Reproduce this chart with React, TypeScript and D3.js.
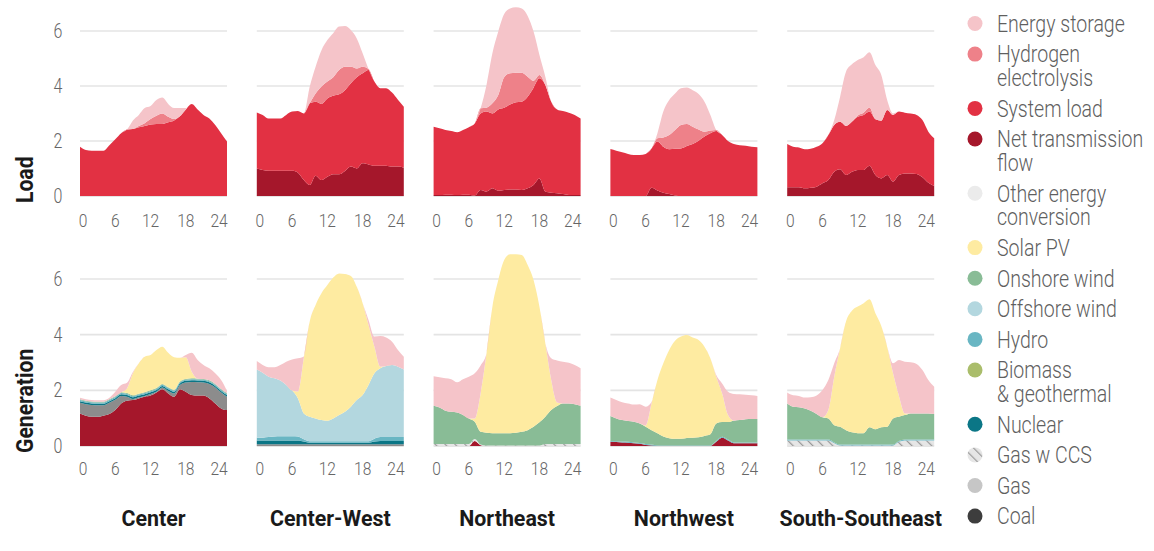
import React from 'react';
import * as d3 from 'd3';

// hours of a typical day (model points 0..25)
const hours = [0, 1, 2, 3, 4, 5, 6, 7, 8, 9, 10, 11, 12, 13, 14, 15, 16, 17, 18, 19, 20, 21, 22, 23, 24, 25];
const regions = ['Center', 'Center-West', 'Northeast', 'Northwest', 'South-Southeast'];
const yTicks = [0, 2, 4, 6];
const xTicks = [0, 6, 12, 18, 24];
const rowLabels = ['Load', 'Generation'];

// ---- Load row (GW) ----
const cSystem = [1.79, 1.67, 1.65, 1.65, 1.65, 1.85, 2.06, 2.28, 2.42, 2.44, 2.5, 2.55, 2.6, 2.62, 2.62, 2.68, 2.75, 2.9, 3.15, 3.35, 3.15, 2.95, 2.82, 2.58, 2.28, 1.98];
const cHydrogen = [0, 0, 0, 0, 0, 0, 0, 0, 0, 0, 0.05, 0.1, 0.2, 0.3, 0.38, 0.2, 0.05, 0, 0, 0, 0, 0, 0, 0, 0, 0];
const cStorage = [0, 0, 0, 0, 0, 0, 0, 0, 0, 0.31, 0.4, 0.55, 0.47, 0.57, 0.58, 0.47, 0.4, 0.3, 0.05, 0, 0, 0, 0, 0, 0, 0];

const cwNet = [1.0, 0.95, 0.92, 0.92, 0.92, 0.92, 0.92, 0.85, 0.58, 0.4, 0.74, 0.58, 0.7, 0.79, 0.79, 0.91, 1.07, 1.0, 1.19, 1.15, 1.1, 1.1, 1.1, 1.07, 1.07, 1.03];
const cwSystem = [2.04, 2.0, 1.9, 1.9, 1.9, 2.03, 2.15, 2.24, 2.42, 2.97, 2.69, 2.77, 2.85, 2.86, 2.91, 2.94, 3.03, 3.32, 3.27, 3.43, 3.06, 2.82, 2.82, 2.69, 2.43, 2.22];
const cwHydrogen = [0, 0, 0, 0, 0, 0, 0, 0, 0, 0, 0.3, 0.63, 0.61, 0.67, 0.88, 0.85, 0.6, 0.32, 0.24, 0.04, 0, 0, 0, 0, 0, 0];
const cwStorage = [0, 0, 0, 0, 0, 0, 0, 0, 0, 0.6, 0.97, 1.32, 1.51, 1.6, 1.58, 1.48, 1.34, 1.09, 0.49, 0, 0, 0, 0, 0, 0, 0];

const neNet = [0.04, 0.04, 0.05, 0.05, 0.04, 0.05, 0.05, 0.02, 0.22, 0.16, 0.28, 0.19, 0.22, 0.24, 0.24, 0.22, 0.28, 0.4, 0.64, 0.16, 0.12, 0.1, 0.07, 0.04, 0.04, 0.04];
const neSystem = [2.48, 2.42, 2.35, 2.31, 2.28, 2.35, 2.45, 2.62, 2.78, 2.91, 2.72, 2.96, 2.99, 3.09, 3.17, 3.21, 3.33, 3.54, 3.64, 3.88, 3.31, 3.05, 3.02, 2.99, 2.91, 2.78];
const neHydrogen = [0, 0, 0, 0, 0, 0, 0, 0, 0.19, 0.14, 0.37, 0.52, 1.11, 1.13, 1.07, 1.05, 0.73, 0.25, 0.12, 0, 0, 0, 0, 0, 0, 0];
const neStorage = [0, 0, 0, 0, 0, 0, 0, 0, 0, 0.83, 1.82, 2.31, 2.3, 2.36, 2.38, 2.34, 2.21, 1.79, 0.73, 0.3, 0, 0, 0, 0, 0, 0];

const nwNet = [0, 0, 0, 0, 0, 0, 0, 0.3, 0.2, 0.12, 0.07, 0.02, 0, 0, 0, 0, 0, 0, 0, 0, 0, 0, 0, 0, 0, 0];
const nwSystem = [1.71, 1.65, 1.59, 1.53, 1.49, 1.49, 1.53, 1.43, 1.78, 1.67, 1.63, 1.7, 1.73, 1.82, 1.89, 2.01, 2.16, 2.28, 2.36, 2.22, 2.0, 1.89, 1.85, 1.83, 1.79, 1.77];
const nwHydrogen = [0, 0, 0, 0, 0, 0, 0, 0, 0.12, 0.34, 0.52, 0.68, 0.85, 0.8, 0.63, 0.41, 0.18, 0.1, 0.04, 0, 0, 0, 0, 0, 0, 0];
const nwStorage = [0, 0, 0, 0, 0, 0, 0, 0, 0.18, 0.94, 1.27, 1.33, 1.34, 1.33, 1.33, 1.29, 1.09, 0.57, 0, 0, 0, 0, 0, 0, 0, 0];

const sNet = [0.32, 0.32, 0.32, 0.28, 0.3, 0.34, 0.46, 0.58, 0.88, 0.97, 0.76, 0.88, 0.95, 0.95, 1.1, 0.76, 0.64, 0.76, 0.52, 0.76, 0.82, 0.82, 0.8, 0.68, 0.48, 0.36];
const sSystem = [1.57, 1.47, 1.44, 1.42, 1.42, 1.45, 1.46, 1.64, 1.7, 1.73, 1.79, 1.82, 1.93, 2.0, 1.97, 2.03, 2.1, 2.37, 2.43, 2.31, 2.21, 2.18, 2.15, 2.08, 1.86, 1.74];
const sHydrogen = [0, 0, 0, 0, 0, 0, 0, 0, 0, 0, 0, 0, 0.05, 0.08, 0.15, 0, 0, 0, 0, 0, 0, 0, 0, 0, 0, 0];
const sStorage = [0, 0, 0, 0, 0, 0, 0, 0, 0.18, 0.91, 1.97, 2.09, 2.02, 2.02, 2.01, 1.97, 1.66, 0.36, 0.05, 0, 0, 0, 0, 0, 0, 0];

// ---- Generation row (GW) ----
const cgNet = [1.17, 1.09, 1.05, 1.05, 1.09, 1.15, 1.29, 1.53, 1.63, 1.65, 1.71, 1.77, 1.81, 1.92, 2.04, 1.89, 1.77, 2.04, 1.95, 1.83, 1.81, 1.81, 1.71, 1.53, 1.35, 1.29];
const cgGas = [0.38, 0.41, 0.42, 0.41, 0.37, 0.4, 0.37, 0.27, 0.14, 0.04, 0.04, 0.03, 0.06, 0.03, 0.06, 0.09, 0.12, 0.15, 0.33, 0.47, 0.48, 0.47, 0.52, 0.57, 0.57, 0.48];
const cgNuclear = [0.06, 0.06, 0.06, 0.06, 0.06, 0.06, 0.06, 0.06, 0.06, 0.06, 0.06, 0.06, 0.06, 0.06, 0.06, 0.06, 0.06, 0.06, 0.06, 0.06, 0.06, 0.06, 0.06, 0.06, 0.06, 0.06];
const cgHydro = [0.04, 0.04, 0.04, 0.04, 0.04, 0.04, 0.04, 0.04, 0.04, 0.04, 0.04, 0.04, 0.04, 0.04, 0.04, 0.04, 0.04, 0.04, 0.04, 0.04, 0.04, 0.04, 0.04, 0.04, 0.04, 0.04];
const cgOnshore = [0.03, 0.03, 0.03, 0.03, 0.03, 0.03, 0.03, 0.03, 0.03, 0.03, 0.03, 0.03, 0.03, 0.03, 0.03, 0.03, 0.03, 0.03, 0.03, 0.03, 0.03, 0.03, 0.03, 0.03, 0.03, 0.03];
const cgSolar = [0, 0, 0, 0, 0, 0, 0, 0, 0.17, 0.79, 1.09, 1.28, 1.27, 1.37, 1.34, 1.24, 1.17, 0.85, 0.78, 0.24, 0, 0, 0, 0, 0, 0];
const cgStorage = [0.05, 0.05, 0.05, 0.05, 0.05, 0.05, 0.16, 0.26, 0.2, 0.05, 0, 0, 0, 0, 0, 0, 0, 0, 0.08, 0.68, 0.67, 0.5, 0.43, 0.38, 0.32, 0.08];

const cwgGas = [0.06, 0.06, 0.06, 0.06, 0.06, 0.06, 0.06, 0.06, 0.06, 0.06, 0.06, 0.06, 0.06, 0.06, 0.06, 0.06, 0.06, 0.06, 0.06, 0.06, 0.06, 0.06, 0.06, 0.06, 0.06, 0.06];
const cwgNuclear = [0.14, 0.14, 0.14, 0.14, 0.14, 0.14, 0.14, 0.14, 0.1, 0.06, 0.06, 0.06, 0.06, 0.06, 0.06, 0.06, 0.06, 0.06, 0.06, 0.06, 0.1, 0.12, 0.12, 0.12, 0.12, 0.12];
const cwgHydro = [0.1, 0.1, 0.12, 0.14, 0.15, 0.15, 0.15, 0.14, 0.08, 0.05, 0.05, 0.05, 0.05, 0.05, 0.05, 0.05, 0.05, 0.05, 0.05, 0.05, 0.1, 0.14, 0.14, 0.14, 0.14, 0.14];
const cwgOffshore = [2.45, 2.33, 2.17, 2.09, 2.0, 1.84, 1.64, 1.37, 0.93, 0.88, 0.82, 0.76, 0.74, 0.82, 0.94, 1.06, 1.24, 1.48, 1.66, 2.02, 2.35, 2.47, 2.55, 2.59, 2.53, 2.43];
const cwgSolar = [0, 0, 0, 0, 0, 0, 0, 0.25, 2.0, 3.42, 4.08, 4.56, 4.87, 5.06, 5.09, 4.95, 4.7, 4.07, 3.3, 2.16, 0.96, 0.06, 0, 0, 0, 0];
const cwgStorage = [0.3, 0.28, 0.34, 0.4, 0.56, 0.84, 1.12, 1.19, 0.05, 0, 0, 0, 0, 0, 0, 0, 0, 0, 0, 0.18, 0.36, 1.1, 1.03, 0.84, 0.6, 0.46];

const negGasCcs = [0.07, 0.07, 0.07, 0.07, 0.07, 0.07, 0.07, 0.07, 0.02, 0.02, 0.02, 0.02, 0.02, 0.02, 0.02, 0.02, 0.02, 0.02, 0.02, 0.07, 0.07, 0.07, 0.07, 0.07, 0.07, 0.07];
const negNet = [0, 0, 0, 0, 0, 0, 0, 0.18, 0.03, 0, 0, 0, 0, 0, 0, 0, 0, 0, 0, 0, 0, 0, 0, 0, 0, 0];
const negOnshore = [1.38, 1.31, 1.2, 1.16, 1.13, 1.04, 0.92, 0.62, 0.46, 0.46, 0.44, 0.44, 0.44, 0.44, 0.46, 0.49, 0.55, 0.67, 0.83, 0.98, 1.22, 1.37, 1.46, 1.46, 1.43, 1.38];
const negSolar = [0, 0, 0, 0, 0, 0, 0, 0.12, 1.38, 2.85, 4.54, 5.5, 6.22, 6.43, 6.41, 6.35, 5.93, 5.27, 4.15, 2.64, 1.08, 0.12, 0, 0, 0, 0];
const negStorage = [1.06, 1.09, 1.16, 1.17, 1.09, 1.29, 1.5, 1.62, 1.0, 0, 0, 0, 0, 0, 0, 0, 0, 0, 0, 0, 0.78, 1.51, 1.5, 1.46, 1.41, 1.34];

const nwgNet = [0.15, 0.14, 0.13, 0.12, 0.1, 0.08, 0.04, 0.02, 0, 0, 0, 0, 0, 0, 0, 0, 0, 0, 0.15, 0.3, 0.2, 0.1, 0.1, 0.1, 0.1, 0.1];
const nwgHydro = [0.03, 0.03, 0.03, 0.03, 0.03, 0.03, 0.03, 0.03, 0.02, 0.02, 0.02, 0.02, 0.02, 0.02, 0.02, 0.02, 0.02, 0.02, 0.03, 0.03, 0.03, 0.03, 0.03, 0.03, 0.03, 0.03];
const nwgOnshore = [0.9, 0.82, 0.77, 0.75, 0.74, 0.7, 0.62, 0.52, 0.44, 0.32, 0.26, 0.24, 0.24, 0.27, 0.28, 0.29, 0.34, 0.4, 0.63, 0.53, 0.63, 0.78, 0.8, 0.83, 0.84, 0.84];
const nwgSolar = [0, 0, 0, 0, 0, 0, 0.05, 0.96, 1.91, 2.63, 3.17, 3.52, 3.67, 3.7, 3.6, 3.5, 3.21, 2.73, 1.68, 1.03, 0.25, 0, 0, 0, 0, 0];
const nwgStorage = [0.66, 0.66, 0.64, 0.63, 0.62, 0.69, 0.67, 0.05, 0, 0, 0, 0, 0, 0, 0, 0, 0, 0, 0.06, 0.36, 0.84, 0.96, 0.93, 0.88, 0.85, 0.83];

const sgGasCcs = [0.2, 0.2, 0.2, 0.2, 0.2, 0.2, 0.2, 0.2, 0.1, 0.02, 0.02, 0.02, 0.02, 0.02, 0.02, 0.02, 0.02, 0.02, 0.02, 0.15, 0.2, 0.2, 0.2, 0.2, 0.2, 0.2];
const sgHydro = [0.03, 0.03, 0.03, 0.03, 0.03, 0.03, 0.03, 0.03, 0.03, 0.03, 0.03, 0.03, 0.03, 0.03, 0.03, 0.03, 0.03, 0.03, 0.03, 0.03, 0.03, 0.03, 0.03, 0.03, 0.03, 0.03];
const sgOnshore = [1.3, 1.18, 1.16, 1.12, 1.04, 0.92, 0.8, 0.76, 0.62, 0.64, 0.52, 0.44, 0.41, 0.41, 0.62, 0.55, 0.62, 0.64, 0.94, 0.87, 0.88, 0.94, 0.94, 0.94, 0.94, 0.92];
const sgSolar = [0, 0, 0, 0, 0, 0, 0, 0.3, 1.74, 2.82, 3.9, 4.37, 4.55, 4.67, 4.6, 4.17, 3.64, 2.88, 1.62, 0.75, 0.06, 0, 0, 0, 0, 0];
const sgStorage = [0.39, 0.41, 0.41, 0.39, 0.48, 0.66, 0.98, 1.08, 0.48, 0, 0, 0, 0, 0, 0, 0, 0, 0, 0.36, 1.29, 1.86, 1.84, 1.78, 1.56, 1.2, 0.98];

const loadKeys = ['net', 'system', 'hydrogen', 'storage'];
const genKeys = ['net', 'coal', 'gas', 'gasCcs', 'nuclear', 'biomass', 'hydro', 'offshore', 'onshore', 'solar', 'other', 'storage'];

const loadByRegion: Record<string, number[]>[] = [
  { system: cSystem, hydrogen: cHydrogen, storage: cStorage },
  { net: cwNet, system: cwSystem, hydrogen: cwHydrogen, storage: cwStorage },
  { net: neNet, system: neSystem, hydrogen: neHydrogen, storage: neStorage },
  { net: nwNet, system: nwSystem, hydrogen: nwHydrogen, storage: nwStorage },
  { net: sNet, system: sSystem, hydrogen: sHydrogen, storage: sStorage },
];
const genByRegion: Record<string, number[]>[] = [
  { net: cgNet, gas: cgGas, nuclear: cgNuclear, hydro: cgHydro, onshore: cgOnshore, solar: cgSolar, storage: cgStorage },
  { gas: cwgGas, nuclear: cwgNuclear, hydro: cwgHydro, offshore: cwgOffshore, solar: cwgSolar, storage: cwgStorage },
  { gasCcs: negGasCcs, net: negNet, onshore: negOnshore, solar: negSolar, storage: negStorage },
  { net: nwgNet, hydro: nwgHydro, onshore: nwgOnshore, solar: nwgSolar, storage: nwgStorage },
  { gasCcs: sgGasCcs, hydro: sgHydro, onshore: sgOnshore, solar: sgSolar, storage: sgStorage },
];

const legendKeys = ['storage', 'hydrogen', 'system', 'net', 'other', 'solar', 'onshore', 'offshore', 'hydro', 'biomass', 'nuclear', 'gasCcs', 'gas', 'coal'];
const legendLabels = [
  ['Energy storage'], ['Hydrogen', 'electrolysis'], ['System load'], ['Net transmission', 'flow'],
  ['Other energy', 'conversion'], ['Solar PV'], ['Onshore wind'], ['Offshore wind'], ['Hydro'],
  ['Biomass', '& geothermal'], ['Nuclear'], ['Gas w CCS'], ['Gas'], ['Coal'],
];

const colors: Record<string, string> = {
  storage: '#f5c4c9', hydrogen: '#ee8189', system: '#e23143', net: '#a5172b', other: '#ebebeb',
  solar: '#feeba1', onshore: '#89bc96', offshore: '#b3d7df', hydro: '#69b6c3', biomass: '#aabd6b',
  nuclear: '#0b7686', gasCcs: 'url(#hatch)', gas: '#c6c6c6', coal: '#3d3d3d',
};
const areaColors: Record<string, string> = { ...colors, gas: '#8c8c8c' };

const FONT = "Roboto, 'Noto Sans', sans-serif";
const panelLeft = 80;
const panelStep = 176.8;
const panelW = 147;

const rows = [
  { keys: loadKeys, data: loadByRegion, y: d3.scaleLinear().domain([0, 6]).range([196, 31]), tickY: 227 },
  { keys: genKeys, data: genByRegion, y: d3.scaleLinear().domain([0, 6]).range([446, 279]), tickY: 475 },
];

function stackRegion(keys: string[], series: Record<string, number[]>) {
  const table = hours.map((h, i) => {
    const r: Record<string, number> = { hour: h };
    keys.forEach(k => { r[k] = series[k] ? series[k][i] : 0; });
    return r;
  });
  return d3.stack<Record<string, number>>().keys(keys)(table);
}

// condensed-looking text: the narrow face isn't installed, so squeeze Roboto horizontally
const Narrow: React.FC<{ x: number; y: number; sx?: number; rotate?: number; children: React.ReactNode; [k: string]: any }> =
  ({ x, y, sx = 0.84, rotate = 0, children, ...rest }) => (
    <text transform={`translate(${x},${y}) rotate(${rotate}) scale(${sx},1)`} {...rest}>{children}</text>
  );

const App: React.FC = () => {
  return (
    <svg width={1154} height={551} style={{ position: 'absolute', left: 0, top: 0, display: 'block', background: '#fff' }} fontFamily={FONT}>
      <defs>
        <pattern id="hatch" width={7} height={7} patternUnits="userSpaceOnUse" patternTransform="rotate(-45)">
          <rect width={7} height={7} fill="#e6e6e6" />
          <line x1={0} y1={0} x2={0} y2={7} stroke="#9a9a9a" strokeWidth={2.4} />
        </pattern>
      </defs>

      {rows.map((row, ri) => (
        <g key={ri}>
          <Narrow x={33} y={row.y(0) + 7} rotate={-90} sx={0.92} fontSize={23} fontWeight="bold" fill="#1a1a1a">
            {rowLabels[ri]}
          </Narrow>
          {yTicks.map(t => (
            <Narrow key={t} x={58} y={row.y(t) + 7} sx={0.82} textAnchor="middle" fontSize={19.5} fontWeight={300} fill="#666">{t}</Narrow>
          ))}
          {regions.map((name, pi) => {
            const x0 = panelLeft + pi * panelStep;
            const x = d3.scaleLinear().domain([0, 25]).range([x0, x0 + panelW]);
            const area = d3.area<d3.SeriesPoint<Record<string, number>>>()
              .x((d, i) => x(hours[i]))
              .y0(d => row.y(d[0]))
              .y1(d => row.y(d[1]))
              .curve(d3.curveMonotoneX);
            const layers = stackRegion(row.keys, row.data[pi]);
            return (
              <g key={name}>
                {yTicks.map(t => (
                  <line key={t} x1={x0} x2={x0 + panelW} y1={row.y(t)} y2={row.y(t)} stroke={t === 0 ? '#dcdcdc' : '#e4e4e4'} strokeWidth={1.6} />
                ))}
                {layers.filter(l => row.data[pi][l.key]).map(l => (
                  <path key={l.key} d={area(l) || ''} fill={areaColors[l.key]} />
                ))}
                {xTicks.map(t => (
                  <Narrow key={t} x={x(t) + (t === 0 ? 3 : t === 24 ? -2 : 0)} y={row.tickY} sx={0.82} textAnchor="middle" fontSize={19} fontWeight={300} fill="#666">{t}</Narrow>
                ))}
                {ri === 1 && (
                  <Narrow x={x0 + panelW / 2} y={526} sx={0.93} textAnchor="middle" fontSize={23} fontWeight="bold" fill="#1a1a1a">{name}</Narrow>
                )}
              </g>
            );
          })}
        </g>
      ))}

      {(() => {
        let y = 23.5;
        return legendKeys.map((k, i) => {
          const cy = y;
          y += legendLabels[i].length * 23.7 + 6.9;
          return (
            <g key={k}>
              <circle cx={975} cy={cy} r={7.5} fill={colors[k]} />
              <Narrow x={997} y={cy + 8.3} sx={0.85} fontSize={23} fontWeight={300} fill="#5f5f5f">
                {legendLabels[i].map((s, j) => (
                  <tspan key={j} x={0} dy={j === 0 ? 0 : 23.7}>{s}</tspan>
                ))}
              </Narrow>
            </g>
          );
        });
      })()}
    </svg>
  );
};

export default App;
